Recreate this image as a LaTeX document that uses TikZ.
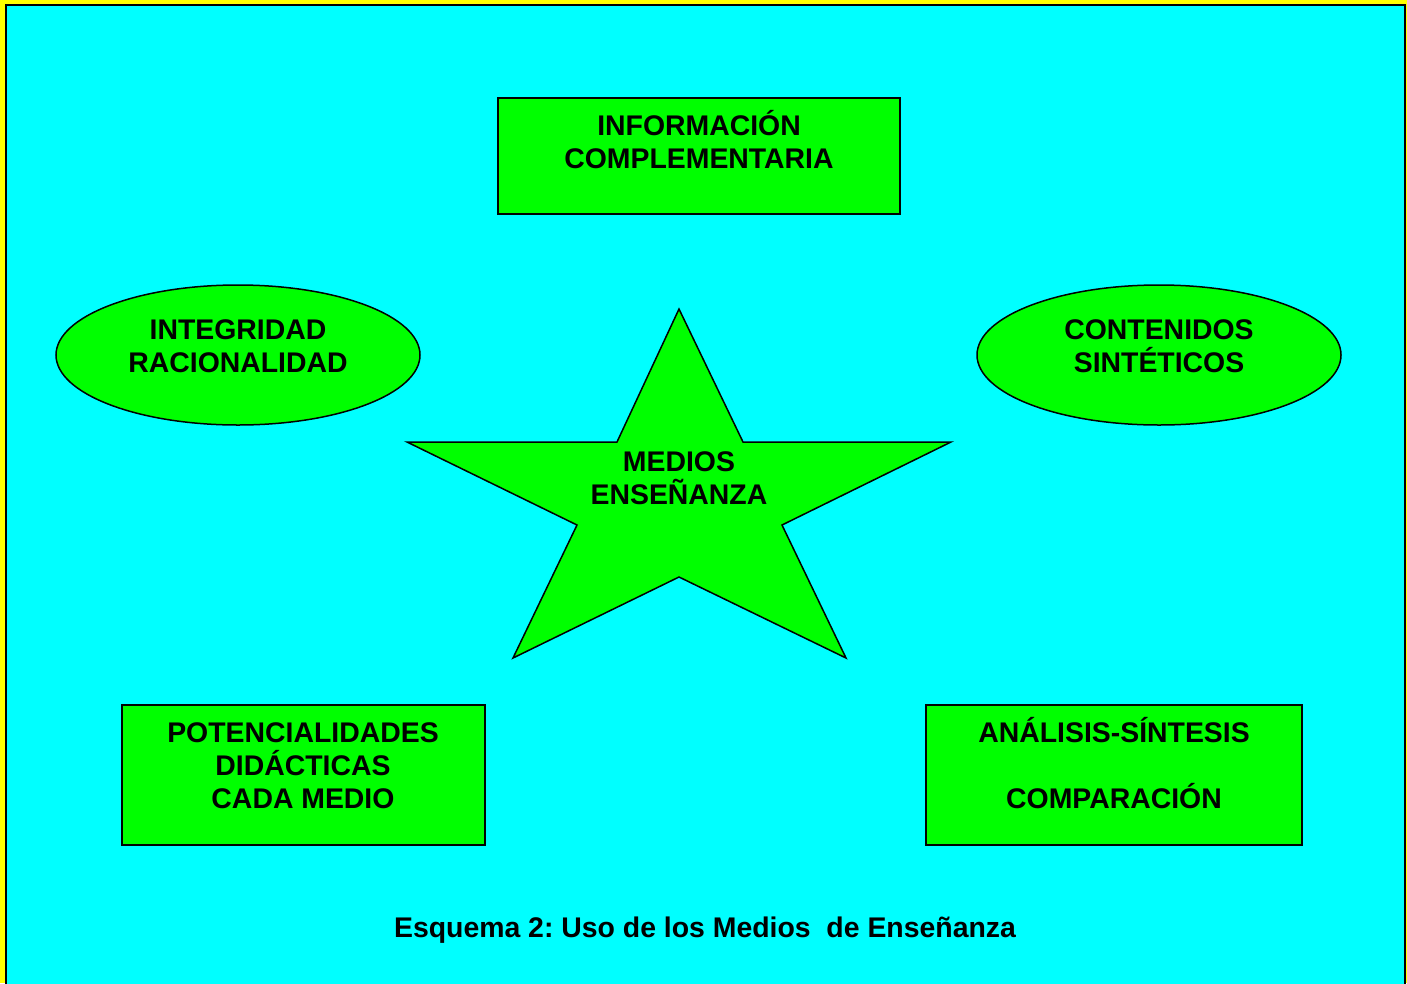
\documentclass[tikz,border=0pt]{standalone}
\usepackage{fontspec}
\setmainfont{Liberation Sans}
\frenchspacing
\definecolor{bgcyan}{HTML}{00FFFF}
\definecolor{boxgreen}{HTML}{00FF00}
\definecolor{frameyellow}{HTML}{FFFF00}
\begin{document}
\begin{tikzpicture}[x=1pt,y=-1pt,
  shapebox/.style={draw=black, fill=boxgreen, line width=1.5pt},
  label/.style={align=center, anchor=base, inner sep=0pt, font=\fontsize{28.4}{33}\selectfont\bfseries}]
\useasboundingbox (0,0) rectangle (1407,983);
\fill[frameyellow] (0,0) rectangle (1407,983);
\filldraw[fill=bgcyan, draw=black, line width=2pt] (6,5) rectangle (1405,995);
% shapes
\filldraw[shapebox] (498,98) rectangle (900,214);
\filldraw[shapebox] (238,355) ellipse [x radius=182, y radius=70];
\filldraw[shapebox] (1159,355) ellipse [x radius=182, y radius=70];
\filldraw[shapebox] (679,309) -- (743,442) -- (951,442) -- (782,525) -- (846,658) -- (679,577) -- (513,658) -- (577,525) -- (407,442) -- (617,442) -- cycle;
\filldraw[shapebox] (122,705) rectangle (485,845);
\filldraw[shapebox] (926,705) rectangle (1302,845);
% texts (base anchor = baseline of last line)
\node[label] (info) at (699,168) {INFORMACIÓN\\COMPLEMENTARIA};
\node[label] (integ) at (238,372) {INTEGRIDAD\\RACIONALIDAD};
\node[label] (cont) at (1159,372) {CONTENIDOS\\SINTÉTICOS};
\node[label] (medios) at (679,504) {MEDIOS\\ENSEÑANZA};
\node[label] (pot) at (303,808) {POTENCIALIDADES\\DIDÁCTICAS\\CADA MEDIO};
\node[label] (anal) at (1114,808) {ANÁLISIS-SÍNTESIS\\[33pt]COMPARACIÓN};
\node[label] (cap) at (705,937) {Esquema 2: Uso de los Medios\ \ de Enseñanza};
\end{tikzpicture}
\end{document}
